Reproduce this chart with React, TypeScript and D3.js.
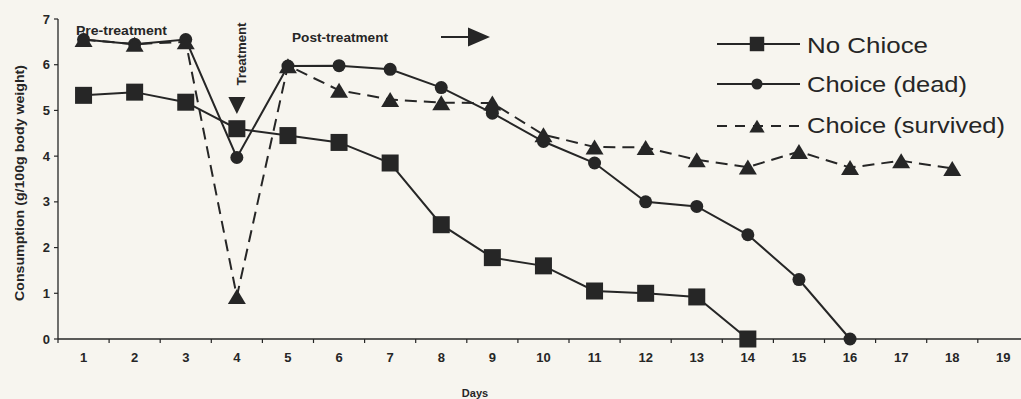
import React from "react";
import * as d3 from "d3";

const days = d3.range(1, 20);
const yTicks = [0, 1, 2, 3, 4, 5, 6, 7];

const noChoice = [5.33, 5.4, 5.18, 4.6, 4.45, 4.3, 3.85, 2.5, 1.78, 1.6, 1.05, 1.0, 0.92, 0];
const choiceDead = [6.55, 6.45, 6.55, 3.97, 5.97, 5.98, 5.9, 5.5, 4.94, 4.32, 3.85, 3.0, 2.9, 2.28, 1.3, 0];
const choiceSurvived = [6.55, 6.45, 6.5, 0.93, 5.98, 5.44, 5.24, 5.17, 5.16, 4.47, 4.2, 4.19, 3.92, 3.76, 4.1, 3.75, 3.9, 3.73];

const seriesNames = ["No Chioce", "Choice (dead)", "Choice (survived)"];

const W = 1021;
const H = 399;
const INK = "#262626";
const FONT = "Arial, 'Liberation Sans', sans-serif";

function Marker({ kind, x, y, s = 1 }: { kind: string; x: number; y: number; s?: number }) {
  if (kind === "square") {
    const a = 17 * s;
    return <rect x={x - a / 2} y={y - a / 2} width={a} height={a} fill={INK} />;
  }
  if (kind === "circle") {
    return <circle cx={x} cy={y} r={6.5 * s} fill={INK} />;
  }
  const w = 18 * s, h = 15 * s;
  return <path d={`M${x},${y - h / 2}L${x + w / 2},${y + h / 2}L${x - w / 2},${y + h / 2}Z`} fill={INK} />;
}

export default function App() {
  const x = d3.scaleBand<number>().domain(days).range([58, 58 + 19 * 51.1]);
  const cx = (d: number) => (x(d) as number) + x.bandwidth() / 2;
  const y = d3.scaleLinear().domain([0, 7]).range([339, 19]);

  const line = d3
    .line<number>()
    .x((_, i) => cx(i + 1))
    .y((v) => y(v));

  const series = [
    { name: seriesNames[0], data: noChoice, kind: "square", dash: undefined },
    { name: seriesNames[1], data: choiceDead, kind: "circle", dash: undefined },
    { name: seriesNames[2], data: choiceSurvived, kind: "triangle", dash: "12,7" },
  ];

  const legendRows = [
    { y: 44, base: 53, len: 121 },
    { y: 84, base: 92, len: 160 },
    { y: 126, base: 133, len: 198 },
  ];

  return (
    <svg
      width={W}
      height={H}
      style={{ position: "fixed", left: 0, top: 0, display: "block" }}
      fontFamily={FONT}
    >
      <rect x={0} y={0} width={W} height={H} fill="#f7f5ef" />

      {/* y axis */}
      <line x1={58} x2={58} y1={y(7)} y2={y(0)} stroke={INK} strokeWidth={1.3} />
      {yTicks.map((t) => (
        <g key={t}>
          <line x1={54} x2={58} y1={y(t)} y2={y(t)} stroke={INK} strokeWidth={1.2} />
          <text x={50} y={y(t) + 4.5} textAnchor="end" fontSize={13} fontWeight="bold" fill={INK}>
            {t}
          </text>
        </g>
      ))}

      {/* x axis */}
      <line x1={58} x2={W} y1={y(0)} y2={y(0)} stroke={INK} strokeWidth={1.3} />
      {days.map((d) => (
        <g key={d}>
          <line x1={x(d) as number} x2={x(d) as number} y1={y(0)} y2={y(0) + 4} stroke={INK} strokeWidth={1.2} />
          <text x={cx(d)} y={362} textAnchor="middle" fontSize={13} fontWeight="bold" fill={INK}>
            {d}
          </text>
        </g>
      ))}
      <text x={475} y={397} textAnchor="middle" fontSize={11} fontWeight="bold" fill={INK}>
        Days
      </text>
      <text
        transform={`translate(24,${183}) rotate(-90)`}
        textAnchor="middle"
        fontSize={12}
        fontWeight="bold"
        fill={INK}
        textLength={236}
        lengthAdjust="spacingAndGlyphs"
      >
        Consumption (g/100g body weight)
      </text>

      {/* lines */}
      {series.map((s) => (
        <path
          key={s.name}
          d={line(s.data) || ""}
          fill="none"
          stroke={INK}
          strokeWidth={2}
          strokeDasharray={s.dash}
        />
      ))}
      {series.map((s) =>
        s.data.map((v, i) => <Marker key={s.name + i} kind={s.kind} x={cx(i + 1)} y={y(v)} />)
      )}

      {/* annotations */}
      <text x={76} y={35} fontSize={12} fontWeight="bold" fill={INK} textLength={91} lengthAdjust="spacingAndGlyphs">
        Pre-treatment
      </text>
      <text
        transform="translate(246,54) rotate(-90)"
        textAnchor="middle"
        fontSize={12}
        fontWeight="bold"
        fill={INK}
        textLength={63}
        lengthAdjust="spacingAndGlyphs"
      >
        Treatment
      </text>
      <path d={`M${cx(4) - 8.5},97L${cx(4) + 8.5},97L${cx(4)},114Z`} fill={INK} />
      <text x={292} y={42} fontSize={12} fontWeight="bold" fill={INK} textLength={96} lengthAdjust="spacingAndGlyphs">
        Post-treatment
      </text>
      <line x1={441} x2={470} y1={37} y2={37} stroke={INK} strokeWidth={2} />
      <path d="M468,27.5L490,37L468,46.5Z" fill={INK} />

      {/* legend */}
      {series.map((s, i) => {
        const r = legendRows[i];
        return (
          <g key={s.name}>
            <line x1={717} x2={800} y1={r.y} y2={r.y} stroke={INK} strokeWidth={2} strokeDasharray={s.dash ? "10,8" : undefined} />
            <Marker kind={s.kind} x={757} y={r.y} s={0.85} />
            <text x={807} y={r.base} fontSize={22} fill={INK} textLength={r.len} lengthAdjust="spacingAndGlyphs">
              {s.name}
            </text>
          </g>
        );
      })}
    </svg>
  );
}
